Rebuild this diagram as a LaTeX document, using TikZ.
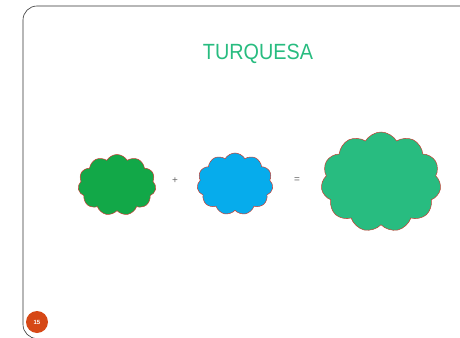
\documentclass[tikz,border=0pt]{standalone}
\usepackage{fontspec}
\usepackage{graphicx}
\setmainfont{Liberation Sans}
\usetikzlibrary{shapes.symbols}
\definecolor{turqcolor}{RGB}{40,188,128}
\definecolor{greencolor}{RGB}{18,168,72}
\definecolor{bluecolor}{RGB}{6,172,236}
\definecolor{edgecolor}{RGB}{200,60,50}
\definecolor{pagecolor}{RGB}{214,72,22}
\tikzset{
  puff/.style={cloud, cloud puffs=11, cloud puff arc=120, draw=edgecolor, line width=0.5pt, inner sep=0pt},
  sign/.style={text=black!60, font=\fontsize{10}{10}\selectfont}
}
\begin{document}
\begin{tikzpicture}[x=1pt,y=-1pt]
            \useasboundingbox (0,0) rectangle (460,337);
            % Frame
            \draw[black!80, line width=0.6pt, rounded corners=14pt] (23,6) rectangle (485,338.5);
            \node[text=turqcolor, font=\fontsize{22}{22}\selectfont] (title) at (258,54) {\scalebox{0.9}[1]{TURQUESA}};
            
            % Clouds
            \node[puff, fill=greencolor, minimum width=78pt, minimum height=61pt] (green) at (117,185) {};
            \node[sign] (plus) at (175,181) {+};
            \node[puff, fill=bluecolor, minimum width=76pt, minimum height=62pt] (blue) at (235,184) {};
            \node[sign] (equals) at (297,180) {=};
            \node[puff, fill=turqcolor, minimum width=120pt, minimum height=100pt] (mix) at (381,182) {};
            
            % Page number
            \node[circle, fill=pagecolor, minimum size=22pt, inner sep=0pt, text=white, font=\fontsize{6}{6}\selectfont\bfseries] (page) at (37,322) {15};
        \end{tikzpicture}
\end{document}
